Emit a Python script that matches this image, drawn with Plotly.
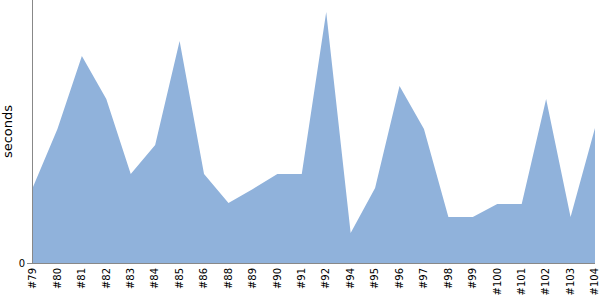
import plotly.graph_objects as go

builds = ["#79", "#80", "#81", "#82", "#83", "#84", "#85", "#86", "#88", "#89",
          "#90", "#91", "#92", "#94", "#95", "#96", "#97", "#98", "#99", "#100",
          "#101", "#102", "#103", "#104"]
seconds = [76, 134, 207, 164, 89, 118, 222, 89, 60, 74,
           89, 89, 251, 30, 75, 177, 134, 46, 46, 59,
           59, 164, 46, 135]

fig = go.Figure()
fig.add_trace(go.Scatter(
    x=builds, y=seconds, mode="lines", fill="tozeroy",
    line=dict(width=0, color="#90B2DB"), fillcolor="#90B2DB",
    hoverinfo="x+y", showlegend=False,
))

fig.update_layout(
    width=600, height=300,
    margin=dict(l=33, r=5, t=0, b=37),
    plot_bgcolor="white", paper_bgcolor="white",
    font=dict(family="DejaVu Sans", size=10, color="black"),
)
fig.update_xaxes(
    type="category", range=[0, len(builds) - 1],
    tickangle=-90, showgrid=False, showline=True, linecolor="#888888",
    linewidth=1, ticks="", tickfont=dict(size=10),
)
fig.update_yaxes(
    range=[0, 263], tickvals=[0], ticktext=["0"], showgrid=False,
    showline=True, linecolor="#888888", linewidth=1, ticks="outside",
    ticklen=5, tickcolor="#888888", zeroline=False,
    title=dict(text="seconds", font=dict(size=13), standoff=8),
    tickfont=dict(size=10),
)

fig.write_html("out.html")
